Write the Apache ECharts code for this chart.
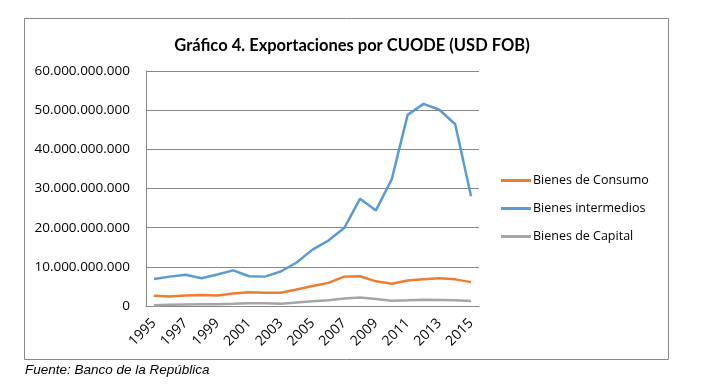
<!DOCTYPE html>
<html><head><meta charset="utf-8">
<script src="https://cdn.jsdelivr.net/npm/echarts@6/dist/echarts.min.js"></script>
<style>html,body{margin:0;padding:0;background:#fff}#c{width:710px;height:385px}</style>
</head><body><div id="c"></div>
<script>
const years = ['1995','1996','1997','1998','1999','2000','2001','2002','2003','2004','2005','2006','2007','2008','2009','2010','2011','2012','2013','2014','2015'];
const consumo = [2.6,2.4,2.65,2.8,2.7,3.2,3.5,3.4,3.4,4.2,5.1,5.9,7.5,7.6,6.3,5.7,6.5,6.8,7.1,6.8,6.1];
const intermedios = [6.9,7.5,8.0,7.1,8.05,9.1,7.6,7.5,8.8,11.1,14.4,16.7,19.9,27.4,24.4,32.4,48.8,51.6,50.1,46.4,28.0];
const capital = [0.2,0.3,0.4,0.45,0.45,0.55,0.7,0.7,0.6,0.9,1.2,1.45,1.9,2.15,1.8,1.35,1.45,1.6,1.55,1.45,1.3];
const seriesNames = ['Bienes de Consumo','Bienes intermedios','Bienes de Capital'];
const yTicks = [0,10e9,20e9,30e9,40e9,50e9,60e9];
const scale = 1e9;

const fmt = v => v === 0 ? '0' : Math.round(v).toString().replace(/\B(?=(\d{3})+(?!\d))/g, '.');
const chart = echarts.init(document.getElementById('c'));
const mk = (name, arr, color) => ({
  name, type: 'line', data: arr.map(v => v * scale), symbol: 'none',
  lineStyle: { width: 2.5, color }, itemStyle: { color }
});
chart.setOption({
  animation: false,
  title: { text: 'Gráfico 4. Exportaciones por CUODE (USD FOB)', left: 347, textAlign: 'center', top: 32,
    textStyle: { fontFamily: 'Lato', fontWeight: 'bold', fontSize: 16.5, color: '#000' } },
  grid: { left: 146, top: 71, right: 231, bottom: 79 },
  legend: { orient: 'vertical', left: 496, top: 169, itemGap: 15, itemWidth: 30, itemHeight: 3, icon: 'rect',
    textStyle: { fontFamily: 'Open Sans', fontSize: 12.5, color: '#000', padding: [0,0,0,-3] },
    data: seriesNames },
  xAxis: { type: 'category', data: years, boundaryGap: true,
    axisLine: { lineStyle: { color: '#888' } }, axisTick: { show: false },
    axisLabel: { interval: 1, rotate: 45, fontFamily: 'Open Sans', fontSize: 14, color: '#000', margin: 15 } },
  yAxis: { type: 'value', min: yTicks[0], max: yTicks[yTicks.length-1], interval: 10e9,
    axisLine: { show: true, lineStyle: { color: '#888' } }, axisTick: { show: false },
    splitLine: { lineStyle: { color: '#888', width: 1 } },
    axisLabel: { formatter: fmt, fontFamily: 'Open Sans', fontSize: 13.5, color: '#000', margin: 16 } },
  series: [
    mk(seriesNames[0], consumo, '#ED7D31'),
    mk(seriesNames[1], intermedios, '#5B9BD5'),
    mk(seriesNames[2], capital, '#A5A5A5')
  ],
  graphic: [
    { type: 'rect', shape: { x: 24.5, y: 18.5, width: 644, height: 341 }, style: { fill: 'none', stroke: '#888', lineWidth: 1 }, silent: true },
    { type: 'text', left: 25, top: 363, style: { text: 'Fuente: Banco de la República', font: 'italic 13.5px "Liberation Sans"', fill: '#000' } }
  ]
});
</script></body></html>
